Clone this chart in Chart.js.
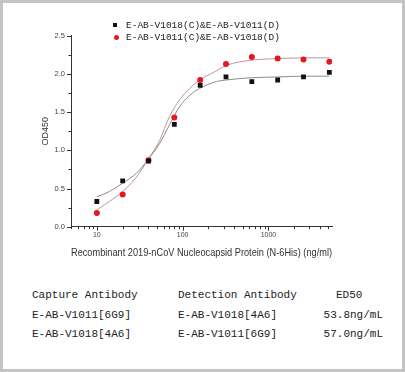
<!DOCTYPE html>
<html><head><meta charset="utf-8">
<script src="https://cdn.jsdelivr.net/npm/chart.js@4/dist/chart.umd.min.js"></script>
<style>
html,body{margin:0;padding:0;background:#fff;}
#frame{position:absolute;left:0;top:0;width:405px;height:372px;box-sizing:border-box;border:3px solid #c4c4c4;}
#wrap{position:absolute;left:0;top:0;width:405px;height:270px;}
.leg{position:absolute;font-family:"Liberation Mono",monospace;font-size:9.5px;line-height:11px;color:#222;white-space:pre;}
.mk{position:absolute;}
.tbl{position:absolute;font-family:"Liberation Mono",monospace;font-size:11px;line-height:13px;color:#222;white-space:pre;}
</style></head><body>
<div id="frame"></div>
<div id="wrap"><canvas id="c" width="405" height="270"></canvas></div>
<div id="legend"></div>
<div id="table"></div>
<script>
// ---- data ----
const concentrations = [10, 20, 40, 80, 160, 320, 640, 1280, 2560, 5120];
const seriesALabel = 'E-AB-V1018(C)&E-AB-V1011(D)';
const seriesA = [0.33, 0.60, 0.86, 1.34, 1.85, 1.96, 1.90, 1.92, 1.96, 2.02];
const seriesBLabel = 'E-AB-V1011(C)&E-AB-V1018(D)';
const seriesB = [0.18, 0.42, 0.87, 1.43, 1.92, 2.13, 2.22, 2.20, 2.19, 2.16];
// fitted curves
const fitConc = [10, 14, 20, 29, 39, 54, 70, 92, 121, 158, 248, 320, 640, 1280, 2560, 5120];
const fitA = [0.39, 0.46, 0.57, 0.70, 0.87, 1.09, 1.33, 1.57, 1.72, 1.81, 1.90, 1.92, 1.95, 1.96, 1.97, 1.97];
const fitB = [0.22, 0.33, 0.46, 0.65, 0.87, 1.13, 1.44, 1.66, 1.81, 1.92, 2.04, 2.11, 2.18, 2.20, 2.21, 2.21];
// ticks
const xTickValues = [5,6,7,8,9,10,20,30,40,50,60,70,80,90,100,200,300,400,500,600,700,800,900,1000,2000,3000,4000,5000];
const xTickLabels = [10, 100, 1000];
const yTickValues = [0,0.25,0.5,0.75,1,1.25,1.5,1.75,2,2.25,2.5];
const yTickLabels = [0, 0.5, 1.0, 1.5, 2.0, 2.5];
const xTitle = 'Recombinant 2019-nCoV Nucleocapsid Protein (N-6His) (ng/ml)';
const yTitle = 'OD450';
// table
const tableHeader = ['Capture Antibody', 'Detection Antibody', 'ED50'];
const tableCapture = ['E-AB-V1011[6G9]', 'E-AB-V1018[4A6]'];
const tableDetection = ['E-AB-V1018[4A6]', 'E-AB-V1011[6G9]'];
const tableED50 = ['53.8ng/mL', '57.0ng/mL'];

const toXY = (xs, ys) => xs.map((x, i) => ({x: x, y: ys[i]}));
const isLabelX = v => xTickLabels.some(l => Math.abs(l - v) < 1e-6 * l);

const tickMarks = {
  id: 'tickMarks',
  afterDraw(chart) {
    const ctx = chart.ctx, xs = chart.scales.x, ys = chart.scales.y;
    ctx.save();
    ctx.strokeStyle = '#333';
    ctx.lineWidth = 1;
    xs.ticks.forEach(t => {
      const px = Math.round(xs.getPixelForValue(t.value)) + 0.5;
      const major = isLabelX(t.value);
      ctx.beginPath();
      ctx.moveTo(px, xs.top);
      ctx.lineTo(px, xs.top + (major ? 4 : 2.5));
      ctx.stroke();
    });
    ys.ticks.forEach(t => {
      const py = Math.round(ys.getPixelForValue(t.value)) + 0.5;
      const major = yTickLabels.some(v => Math.abs(v - t.value) < 1e-6);
      ctx.beginPath();
      ctx.moveTo(ys.right, py);
      ctx.lineTo(ys.right - (major ? 4 : 2.5), py);
      ctx.stroke();
    });
    // x tick labels at the scale's own positions
    ctx.fillStyle = '#444';
    ctx.font = '7px "Liberation Sans"';
    ctx.textAlign = 'center';
    ctx.textBaseline = 'top';
    xTickLabels.forEach(v => {
      ctx.fillText(String(v), xs.getPixelForValue(v), xs.top + 4.5);
    });
    ctx.restore();
  }
};

new Chart(document.getElementById('c'), {
  type: 'scatter',
  data: {
    datasets: [
      {label: seriesALabel, data: toXY(concentrations, seriesA), pointStyle: 'rect', pointRadius: 3.4,
       backgroundColor: '#111', borderColor: '#111', borderWidth: 0, order: 0},
      {label: seriesBLabel, data: toXY(concentrations, seriesB), pointStyle: 'circle', pointRadius: 3,
       backgroundColor: '#e2191f', borderColor: '#e2191f', borderWidth: 0, order: 0},
      {label: 'fitA', data: toXY(fitConc, fitA), showLine: true, pointRadius: 0, borderWidth: 1,
       borderColor: '#8a8a8a', cubicInterpolationMode: 'monotone', order: 1},
      {label: 'fitB', data: toXY(fitConc, fitB), showLine: true, pointRadius: 0, borderWidth: 1,
       borderColor: '#c09595', cubicInterpolationMode: 'monotone', order: 1}
    ]
  },
  options: {
    responsive: false,
    devicePixelRatio: 1,
    animation: false,
    layout: {padding: {left: 40, top: 35.7, right: 73, bottom: 11}},
    plugins: {legend: {display: false}, tooltip: {enabled: false}},
    scales: {
      x: {
        type: 'logarithmic', min: 5, max: 5500,
        afterBuildTicks: s => { s.ticks = xTickValues.map(v => ({value: v})); },
        afterFit: s => { s.height = 32.3; },
        ticks: {autoSkip: false, maxRotation: 0, padding: 4, color: '#444',
          font: {family: 'Liberation Sans', size: 7},
          callback: () => ''},
        grid: {display: true, drawOnChartArea: false, drawTicks: false},
        border: {display: true, color: '#333', width: 1},
        title: {display: true, text: xTitle, color: '#333', padding: 0,
          font: {family: 'Liberation Sans', size: 10.2}}
      },
      y: {
        min: 0, max: 2.5,
        afterBuildTicks: s => { s.ticks = yTickValues.map(v => ({value: v})); },
        afterFit: s => { s.width = 31; },
        ticks: {autoSkip: false, padding: 6, color: '#444',
          font: {family: 'Liberation Sans', size: 7.5},
          callback: v => yTickLabels.some(l => Math.abs(l - v) < 1e-6) ? v.toFixed(1) : ''},
        grid: {display: true, drawOnChartArea: false, drawTicks: false},
        border: {display: true, color: '#333', width: 1},
        title: {display: true, text: yTitle, color: '#333', padding: 0,
          font: {family: 'Liberation Sans', size: 9}}
      }
    }
  },
  plugins: [tickMarks]
});

// legend (HTML text)
const leg = document.getElementById('legend');
leg.innerHTML =
  '<div class="mk" style="left:113px;top:23px;width:4px;height:4px;background:#111"></div>' +
  '<div class="leg" style="left:126px;top:19.5px">' + seriesALabel + '</div>' +
  '<div class="mk" style="left:113.5px;top:34.5px;width:5px;height:5px;border-radius:50%;background:#e2191f"></div>' +
  '<div class="leg" style="left:126px;top:31.5px">' + seriesBLabel + '</div>';

// table (HTML text)
const tb = document.getElementById('table');
const rowsTop = [288.5, 309, 328];
const colLeft = [32, 178];
let h = '';
h += '<div class="tbl" style="left:' + colLeft[0] + 'px;top:' + rowsTop[0] + 'px">' + tableHeader[0] + '</div>';
h += '<div class="tbl" style="left:' + colLeft[1] + 'px;top:' + rowsTop[0] + 'px">' + tableHeader[1] + '</div>';
h += '<div class="tbl" style="left:336px;top:' + rowsTop[0] + 'px">' + tableHeader[2] + '</div>';
for (let i = 0; i < tableCapture.length; i++) {
  h += '<div class="tbl" style="left:' + colLeft[0] + 'px;top:' + rowsTop[i + 1] + 'px">' + tableCapture[i] + '</div>';
  h += '<div class="tbl" style="left:' + colLeft[1] + 'px;top:' + rowsTop[i + 1] + 'px">' + tableDetection[i] + '</div>';
  h += '<div class="tbl" style="right:22px;top:' + rowsTop[i + 1] + 'px;text-align:right">' + tableED50[i] + '</div>';
}
tb.innerHTML = h;
</script>
</body></html>
